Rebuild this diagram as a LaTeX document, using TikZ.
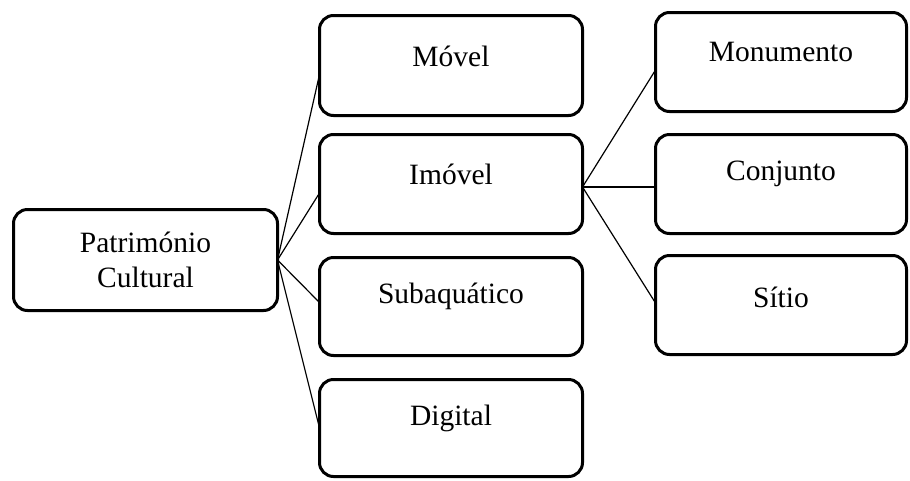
\documentclass[tikz,border=0pt]{standalone}
\usepackage{fontspec}
\setmainfont{Liberation Serif}
\begin{document}
\begin{tikzpicture}[x=1pt,y=-1pt,
  box/.style={draw, line width=3pt, rounded corners=14pt, inner sep=0pt, outer sep=0pt},
  lbl/.style={font=\fontsize{29.5}{35}\selectfont, inner sep=0pt},
  conn/.style={line width=1.2pt}]
\useasboundingbox (0,0) rectangle (910,480);
% root
\node[box, lbl, align=center, minimum width=264pt, minimum height=101pt] (pc) at (145.5,260) {Património\\Cultural};
% middle column
\node[box, minimum width=263pt, minimum height=100pt, label={[lbl,yshift=9pt]center:Móvel}] (mov) at (451,65.5) {};
\node[box, minimum width=263pt, minimum height=99pt, label={[lbl,yshift=10pt]center:Imóvel}] (imo) at (451,184) {};
\node[box, minimum width=263pt, minimum height=98pt, label={[lbl,yshift=10pt]center:Subaquático}] (sub) at (451,306.5) {};
\node[box, minimum width=263pt, minimum height=97pt, label={[lbl,yshift=10pt]center:Digital}] (dig) at (451,428) {};
% right column
\node[box, minimum width=251pt, minimum height=99pt, label={[lbl,yshift=10pt]center:Monumento}] (mon) at (781,62) {};
\node[box, minimum width=251pt, minimum height=99pt, label={[lbl,yshift=10pt]center:Conjunto}] (con) at (781,184) {};
\node[box, minimum width=251pt, minimum height=99pt, label={[lbl,yshift=8pt]center:Sítio}] (sit) at (781,305) {};
% connectors
\draw[conn] (pc.east) -- ([yshift=-9pt]mov.west);
\draw[conn] (pc.east) -- ([yshift=-9pt]imo.west);
\draw[conn] (pc.east) -- ([yshift=4pt]sub.west);
\draw[conn] (pc.east) -- (dig.west);
\draw[conn] ([yshift=-3pt]imo.east) -- ([yshift=-8pt]mon.west);
\draw[conn] ([yshift=-3pt]imo.east) -- ([yshift=-3pt]con.west);
\draw[conn] ([yshift=-3pt]imo.east) -- ([yshift=2pt]sit.west);
\end{tikzpicture}
\end{document}
